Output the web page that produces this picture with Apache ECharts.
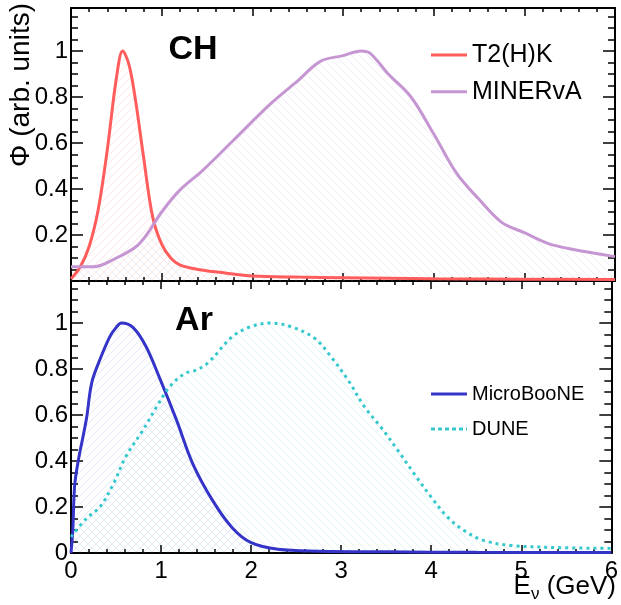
<!DOCTYPE html>
<html>
<head>
<meta charset="utf-8">
<script src="https://cdn.jsdelivr.net/npm/echarts@6/dist/echarts.min.js"></script>
<style>html,body{margin:0;padding:0;background:#fff}#c{width:621px;height:605px}</style>
</head>
<body>
<div id="c"></div>
<script>
// ---- data (E in GeV, flux normalised) ----
const xTicks = [0, 1, 2, 3, 4, 5, 6];
const yTicks = [0, 0.2, 0.4, 0.6, 0.8, 1];
const t2k = [[0,0.01],[0.1,0.06],[0.2,0.15],[0.3,0.31],[0.4,0.57],[0.5,0.88],[0.57,1.0],[0.64,0.94],[0.71,0.79],[0.8,0.54],[0.9,0.28],[1.0,0.16],[1.1,0.1],[1.2,0.07],[1.4,0.05],[1.7,0.035],[2.0,0.022],[2.5,0.017],[3,0.014],[4,0.01],[5,0.008],[6,0.006]];
const minerva = [[0,0.062],[0.25,0.062],[0.5,0.1],[0.72,0.15],[0.85,0.21],[1.0,0.3],[1.2,0.395],[1.45,0.48],[1.8,0.615],[2.2,0.77],[2.5,0.87],[2.75,0.955],[3.0,0.98],[3.2,1.0],[3.3,0.99],[3.5,0.9],[3.75,0.8],[4.0,0.64],[4.25,0.47],[4.5,0.355],[4.75,0.255],[5.0,0.21],[5.25,0.165],[5.5,0.14],[6.0,0.106]];
const microboone = [[0,0],[0.02,0.1],[0.04,0.29],[0.08,0.4],[0.17,0.58],[0.23,0.74],[0.32,0.84],[0.43,0.94],[0.5,0.98],[0.56,1.0],[0.69,0.98],[0.83,0.9],[0.98,0.765],[1.17,0.58],[1.35,0.39],[1.57,0.23],[1.79,0.11],[2.0,0.045],[2.3,0.016],[2.75,0.008],[3.5,0.005],[4.5,0.003],[6,0.002]];
const dune = [[0,0.07],[0.17,0.15],[0.32,0.2],[0.47,0.3],[0.61,0.42],[0.8,0.535],[0.95,0.635],[1.09,0.72],[1.26,0.78],[1.39,0.795],[1.53,0.83],[1.79,0.94],[2.0,0.985],[2.21,1.0],[2.45,0.983],[2.71,0.932],[2.89,0.852],[3.08,0.75],[3.26,0.635],[3.44,0.548],[3.63,0.446],[3.81,0.345],[4.0,0.243],[4.18,0.157],[4.36,0.099],[4.58,0.055],[4.88,0.033],[5.47,0.023],[6,0.02]];
const namesTop = ['T2(H)K', 'MINERvA'];
const namesBot = ['MicroBooNE', 'DUNE'];

const FONT = '"Liberation Sans", Arial, Helvetica, sans-serif';

function hatch(color, dir) {
  const s = 8;
  const c = document.createElement('canvas');
  c.width = s; c.height = s;
  const g = c.getContext('2d');
  g.strokeStyle = color; g.lineWidth = 1;
  g.beginPath();
  for (let k = -1; k <= 1; k++) {
    if (dir > 0) { g.moveTo(k * s, s); g.lineTo(k * s + s, 0); }
    else { g.moveTo(k * s, 0); g.lineTo(k * s + s, s); }
  }
  g.stroke();
  return c;
}

// legend icons: a 3px line inside a 36x23 box (tiny corner dots fix the box size)
const box = 'M0,0 L0.01,0 L0.01,0.01 Z M35.99,22.99 L36,22.99 L36,23 Z ';
const solidIcon = 'path://' + box + 'M0,10 L36,10 L36,13 L0,13 Z';
let dashed = '';
for (let x = 0; x < 36; x += 7) dashed += 'M' + x + ',10 L' + Math.min(x + 4, 36) + ',10 L' + Math.min(x + 4, 36) + ',13 L' + x + ',13 Z ';
const dottedIcon = 'path://' + box + dashed;

const chart = echarts.init(document.getElementById('c'), null, {renderer: 'canvas'});
const black = '#000';
const yMaxTop = 273 / 230, yMaxBot = 272 / 230;

function xAx(grid, pos, labels, tickLen) {
  return {
    type: 'value', gridIndex: grid, position: pos, min: 0, max: 6, interval: 1,
    axisLine: {show: true, onZero: false, lineStyle: {color: black, width: 2}},
    axisTick: {show: true, inside: true, length: tickLen, lineStyle: {color: black, width: 1.5}},
    minorTick: {show: true, splitNumber: 5, length: tickLen / 2, lineStyle: {color: black, width: 1.5}},
    splitLine: {show: false},
    axisLabel: {show: labels, color: black, fontSize: 24, fontFamily: FONT, margin: 6}
  };
}
function yAx(grid, pos, labels, max, showMin) {
  return {
    type: 'value', gridIndex: grid, position: pos, min: 0, max: max, interval: 0.2,
    axisLine: {show: true, onZero: false, lineStyle: {color: black, width: 2}},
    axisTick: {show: true, inside: true, length: 12, lineStyle: {color: black, width: 1.5}},
    minorTick: {show: true, splitNumber: 4, length: 7, lineStyle: {color: black, width: 1.5}},
    splitLine: {show: false},
    axisLabel: {show: labels, color: black, fontSize: 24, fontFamily: FONT, margin: 3,
      showMaxLabel: false, showMinLabel: showMin,
      formatter: v => (Math.abs(v) < 1e-9 ? '0' : String(+v.toFixed(1)))}
  };
}

function ser(name, data, color, xi, yi, fill, dash) {
  return {
    name: name, type: 'line', data: data, xAxisIndex: xi, yAxisIndex: yi,
    symbol: 'none', smooth: 0.35,
    lineStyle: {color: color, width: 3, type: dash || 'solid'},
    itemStyle: {color: color},
    areaStyle: {color: {image: fill, repeat: 'repeat'}, opacity: 1}
  };
}

const option = {
  animation: false,
  textStyle: {fontFamily: FONT},
  grid: [
    {left: 71, top: 8, width: 544, height: 273},
    {left: 71, top: 281, width: 544, height: 272}
  ],
  xAxis: [
    xAx(0, 'bottom', false, 8),
    xAx(0, 'top', false, 8),
    xAx(1, 'bottom', true, 8),
    xAx(1, 'top', false, 8)
  ],
  yAxis: [
    yAx(0, 'left', true, yMaxTop, false),
    yAx(0, 'right', false, yMaxTop, false),
    yAx(1, 'left', true, yMaxBot, true),
    yAx(1, 'right', false, yMaxBot, true)
  ],
  legend: [
    {data: [{name: namesTop[0], icon: solidIcon}, {name: namesTop[1], icon: solidIcon}],
     orient: 'vertical', left: 431, top: 42.5, padding: 0,
     itemWidth: 36, itemHeight: 23, itemGap: 11.7,
     textStyle: {fontSize: 25, color: black, fontFamily: FONT}},
    {data: [{name: namesBot[0], icon: solidIcon}, {name: namesBot[1], icon: dottedIcon}],
     orient: 'vertical', left: 431, top: 382.5, padding: 0,
     itemWidth: 36, itemHeight: 23, itemGap: 12,
     textStyle: {fontSize: 20, color: black, fontFamily: FONT}}
  ],
  series: [
    ser(namesTop[0], t2k, '#ff5c5c', 0, 0, hatch('rgba(255,110,110,0.18)', 1)),
    ser(namesTop[1], minerva, '#c596d2', 0, 0, hatch('rgba(170,150,200,0.18)', -1)),
    ser(namesBot[0], microboone, '#3434c8', 2, 2, hatch('rgba(80,90,210,0.15)', 1)),
    ser(namesBot[1], dune, '#35c8cc', 2, 2, hatch('rgba(60,190,210,0.17)', -1), [3, 4])
  ],
  graphic: [
    {type: 'text', x: 193, y: 50, style: {text: 'CH', font: 'bold 34px ' + FONT, fill: black, align: 'center', verticalAlign: 'middle'}},
    {type: 'text', x: 194, y: 321, style: {text: 'Ar', font: 'bold 34px ' + FONT, fill: black, align: 'center', verticalAlign: 'middle'}},
    {type: 'text', x: 21, y: 3, rotation: Math.PI / 2,
     style: {text: 'Φ (arb. units)', font: '28px ' + FONT, fill: black, align: 'right', verticalAlign: 'middle'}},
    {type: 'text', x: 616, y: 587,
     style: {text: '{a|E}{b|ν}{a| (GeV)}', align: 'right', verticalAlign: 'middle',
       rich: {a: {fontSize: 26, fontFamily: FONT, color: black},
              b: {fontSize: 17, fontFamily: FONT, color: black, padding: [14, 0, 0, 0]}}}}
  ]
};
chart.setOption(option);
</script>
</body>
</html>
